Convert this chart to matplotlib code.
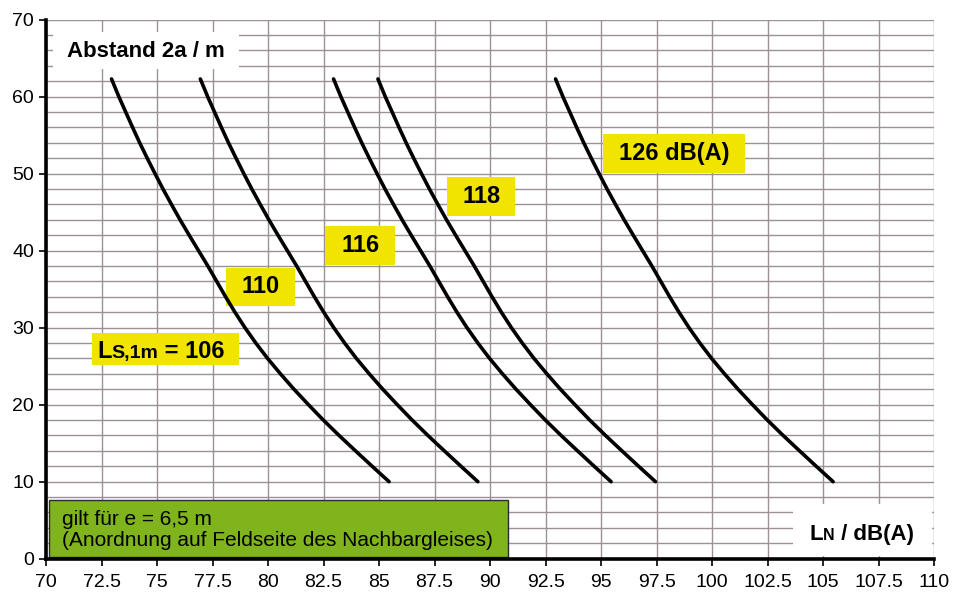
import matplotlib
matplotlib.use('Agg')
import matplotlib.pyplot as plt
from matplotlib.patches import Rectangle
import numpy as np

plt.rcParams['font.family'] = ['Liberation Sans', 'DejaVu Sans']

# Abstand 2a / m (same y values for every curve)
abstand = [62.3, 60, 58, 56, 54, 52, 50, 48, 46, 44, 42, 40, 38, 36,
           34, 32, 30, 28, 26, 24, 22, 20, 18, 16, 14, 12, 10]
# L_N / dB(A), one list per L_S,1m
ln_106 = [72.95, 73.28, 73.59, 73.90, 74.22, 74.56, 74.91, 75.27, 75.65, 76.04, 76.45, 76.87, 77.29, 77.69,
          78.09, 78.51, 78.96, 79.45, 79.98, 80.56, 81.17, 81.82, 82.49, 83.20, 83.94, 84.69, 85.45]
ln_110 = [76.95, 77.28, 77.59, 77.90, 78.22, 78.56, 78.91, 79.27, 79.65, 80.04, 80.45, 80.87, 81.29, 81.69,
          82.09, 82.51, 82.96, 83.45, 83.98, 84.56, 85.17, 85.82, 86.49, 87.20, 87.94, 88.69, 89.45]
ln_116 = [82.95, 83.28, 83.59, 83.90, 84.22, 84.56, 84.91, 85.27, 85.65, 86.04, 86.45, 86.87, 87.29, 87.69,
          88.09, 88.51, 88.96, 89.45, 89.98, 90.56, 91.17, 91.82, 92.49, 93.20, 93.94, 94.69, 95.45]
ln_118 = [84.95, 85.28, 85.59, 85.90, 86.22, 86.56, 86.91, 87.27, 87.65, 88.04, 88.45, 88.87, 89.29, 89.69,
          90.09, 90.51, 90.96, 91.45, 91.98, 92.56, 93.17, 93.82, 94.49, 95.20, 95.94, 96.69, 97.45]
ln_126 = [92.95, 93.28, 93.59, 93.90, 94.22, 94.56, 94.91, 95.27, 95.65, 96.04, 96.45, 96.87, 97.29, 97.69,
          98.09, 98.51, 98.96, 99.45, 99.98, 100.56, 101.17, 101.82, 102.49, 103.20, 103.94, 104.69, 105.45]

xticks = [70, 72.5, 75, 77.5, 80, 82.5, 85, 87.5, 90, 92.5, 95, 97.5, 100, 102.5, 105, 107.5, 110]
xlabels = ['70', '72.5', '75', '77.5', '80', '82.5', '85', '87.5', '90', '92.5',
           '95', '97.5', '100', '102.5', '105', '107.5', '110']
yticks = [0, 10, 20, 30, 40, 50, 60, 70]

yellow = '#f0e400'
green = '#80b41c'
gridc = '#9c9295'

fig = plt.figure(figsize=(9.67, 5.96), dpi=100)
ax = fig.add_axes([0.0476, 0.0626, 0.9184, 0.9044])

ax.set_xlim(70, 110)
ax.set_ylim(0, 70)
ax.set_xticks(xticks)
ax.set_xticklabels(xlabels)
ax.set_yticks(yticks)
ax.set_yticks(np.arange(2, 70, 2), minor=True)
ax.tick_params(axis='both', which='major', length=5, width=1.2, color='black', labelsize=14)
ax.tick_params(axis='y', which='minor', length=0)
ax.tick_params(axis='x', pad=6)
ax.grid(True, axis='x', which='major', color=gridc, lw=1.0)
ax.grid(True, axis='y', which='both', color=gridc, lw=1.0)
ax.set_axisbelow(True)

for s in ['top', 'right']:
    ax.spines[s].set_visible(False)
for s in ['left', 'bottom']:
    ax.spines[s].set_linewidth(2.6)
    ax.spines[s].set_zorder(6)

for xs in [ln_106, ln_110, ln_116, ln_118, ln_126]:
    ax.plot(xs, abstand, color='black', lw=2.6, solid_capstyle='round', solid_joinstyle='round', zorder=4)

# white boxes for axis titles
ax.add_patch(Rectangle((70.3, 63.6), 8.4, 4.8, facecolor='white', edgecolor='none', zorder=2))
ax.add_patch(Rectangle((103.65, 0.3), 6.25, 6.8, facecolor='white', edgecolor='none', zorder=2))
ax.text(70.95, 65.9, 'Abstand 2a / m', fontsize=16, fontweight='bold', va='center', ha='left', zorder=5)

# green note
ax.add_patch(Rectangle((70.12, 0.25), 20.7, 7.35, facecolor=green, edgecolor='#2b2b2b', lw=1.0, zorder=3))
ax.text(70.7, 3.75, 'gilt für e = 6,5 m\n(Anordnung auf Feldseite des Nachbargleises)',
        fontsize=15, va='center', ha='left', linespacing=1.15, zorder=5)

# yellow labels
boxes = [(72.07, 25.2, 6.6, 4.15), (78.1, 32.8, 3.1, 4.95), (82.57, 38.15, 3.15, 5.05),
         (88.06, 44.5, 3.07, 5.05), (95.09, 50.1, 6.4, 5.05)]
for bx, by, bw, bh in boxes:
    ax.add_patch(Rectangle((bx, by), bw, bh, facecolor=yellow, edgecolor='none', zorder=3))

ax.text(79.66, 35.3, '110', fontsize=17, fontweight='bold', ha='center', va='center', zorder=5)
ax.text(84.15, 40.7, '116', fontsize=17, fontweight='bold', ha='center', va='center', zorder=5)
ax.text(89.6, 47.05, '118', fontsize=17, fontweight='bold', ha='center', va='center', zorder=5)
ax.text(98.29, 52.65, '126 dB(A)', fontsize=17, fontweight='bold', ha='center', va='center', zorder=5)

# L_S,1m = 106 built from pieces on one baseline
t1 = ax.text(72.3, 26.0, 'L', fontsize=17, fontweight='bold', va='baseline', ha='left', zorder=5)
t2 = ax.annotate('S,1m', xy=(1, 26.0), xycoords=(t1, 'data'), fontsize=14, fontweight='bold',
                 va='baseline', ha='left', zorder=5)
ax.annotate(' = 106', xy=(1, 26.0), xycoords=(t2, 'data'), fontsize=17, fontweight='bold',
            va='baseline', ha='left', zorder=5)

# L_N / dB(A)
t3 = ax.text(104.38, 2.43, 'L', fontsize=16, fontweight='bold', va='baseline', ha='left', zorder=5)
t4 = ax.annotate('N', xy=(1, 2.43), xycoords=(t3, 'data'), fontsize=11.5, fontweight='bold',
                 va='baseline', ha='left', zorder=5)
ax.annotate(' / dB(A)', xy=(1, 2.43), xycoords=(t4, 'data'), fontsize=16, fontweight='bold',
            va='baseline', ha='left', zorder=5)

plt.savefig('out.png', dpi=100)
